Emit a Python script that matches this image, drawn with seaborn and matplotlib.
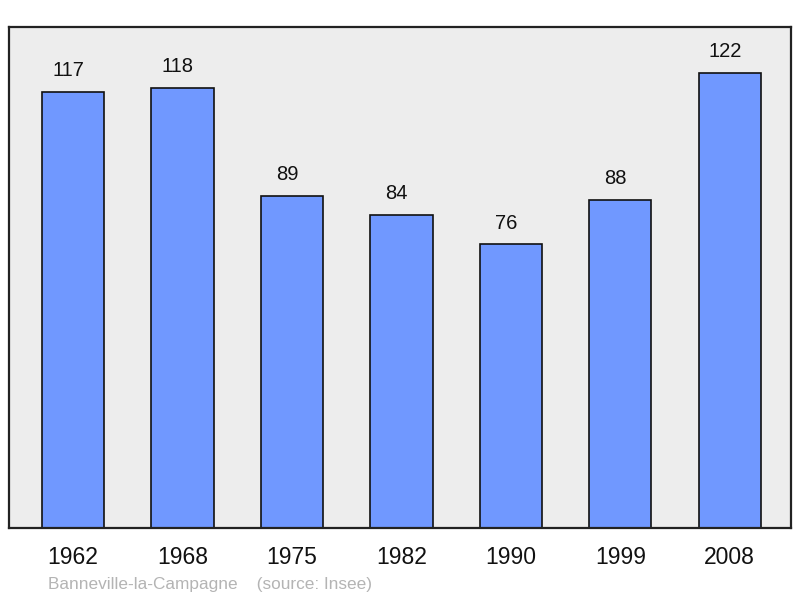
import matplotlib
matplotlib.use("Agg")
import matplotlib.pyplot as plt
import seaborn as sns

years = ["1962", "1968", "1975", "1982", "1990", "1999", "2008"]
population = [117, 118, 89, 84, 76, 88, 122]
footer = "Banneville-la-Campagne    (source: Insee)"

sns.set_style("white")
plt.rcParams["font.family"] = ["Liberation Sans", "DejaVu Sans"]

fig = plt.figure(figsize=(8, 5.98), dpi=100)
ax = fig.add_axes([9 / 800, 70 / 598, 782 / 800, 501 / 598])
ax.set_facecolor("#ededed")

sns.barplot(x=years, y=population, color="#7098ff", saturation=1,
            width=0.57, edgecolor="#111111", linewidth=1.2, ax=ax)

# value labels sit a little left of the bar centre, as in the source
for i, v in enumerate(population):
    ax.annotate(str(v), (i, v), xytext=(-5, 21), textcoords="offset pixels",
                ha="center", va="center", fontsize=14.5, color="#111111")

ax.set_xlim(-0.585, 6.56)
ax.set_ylim(0, 134.3)
ax.set_yticks([])
ax.set_xlabel("")
ax.set_ylabel("")
ax.tick_params(axis="x", length=0, pad=13, labelsize=16.5, colors="#111111")
for s in ax.spines.values():
    s.set_visible(True)
    s.set_linewidth(1.6)
    s.set_color("#222222")

fig.text(48 / 800, 1 - 584 / 598, footer, fontsize=12.4, color="#b4b4b4",
         ha="left", va="center")

fig.savefig("out.png", dpi=100)
